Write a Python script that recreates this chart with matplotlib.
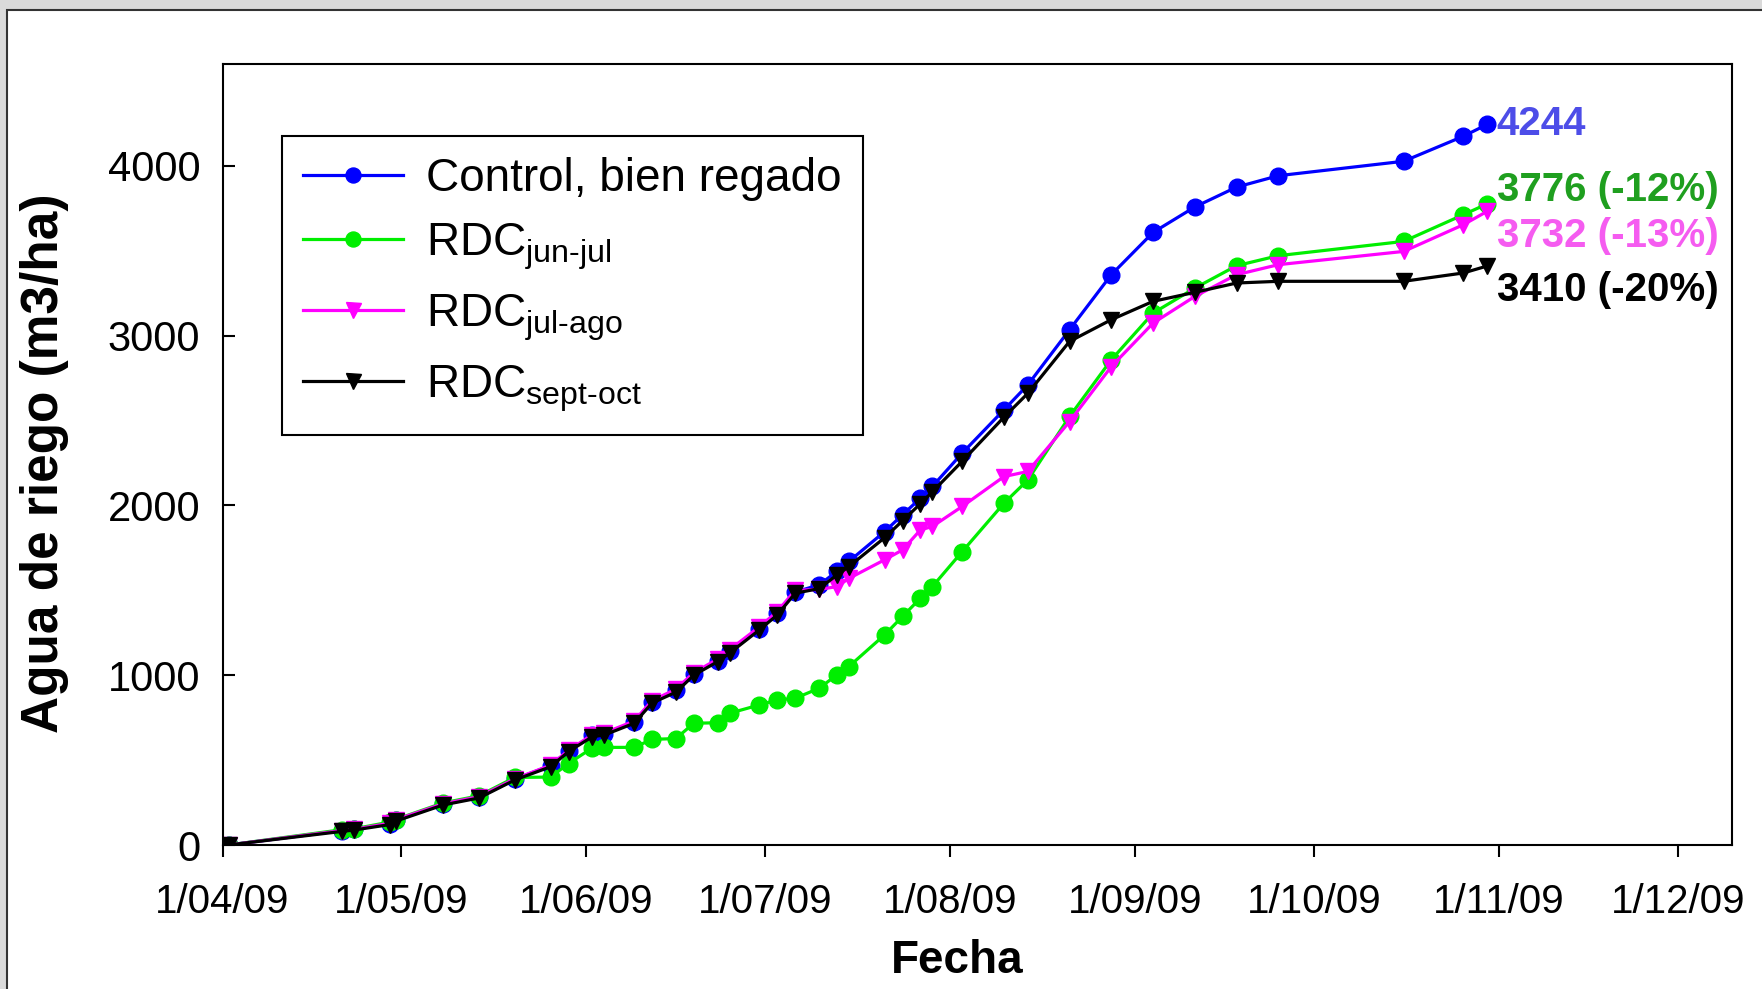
import matplotlib
matplotlib.use("Agg")
import matplotlib.pyplot as plt
import matplotlib.dates as mdates
from matplotlib.patches import Rectangle
from matplotlib.ticker import FuncFormatter
import pandas as pd

plt.rcParams["font.family"] = ["Liberation Sans", "DejaVu Sans"]
plt.rcParams["mathtext.fontset"] = "custom"
plt.rcParams["mathtext.rm"] = "Liberation Sans"
plt.rcParams["mathtext.it"] = "Liberation Sans:italic"
plt.rcParams["mathtext.bf"] = "Liberation Sans:bold"

# fechas de riego 2009
fechas = pd.to_datetime([
    "2009-04-02", "2009-04-21", "2009-04-23", "2009-04-29", "2009-04-30",
    "2009-05-08", "2009-05-14", "2009-05-20", "2009-05-26", "2009-05-29",
    "2009-06-02", "2009-06-04", "2009-06-09", "2009-06-12", "2009-06-16",
    "2009-06-19", "2009-06-23", "2009-06-25", "2009-06-30", "2009-07-03",
    "2009-07-06", "2009-07-10", "2009-07-13", "2009-07-15", "2009-07-21",
    "2009-07-24", "2009-07-27", "2009-07-29", "2009-08-03", "2009-08-10",
    "2009-08-14", "2009-08-21", "2009-08-28", "2009-09-04", "2009-09-11",
    "2009-09-18", "2009-09-25", "2009-10-16", "2009-10-26", "2009-10-30",
])

# agua acumulada (m3/ha)
control = [0, 85, 92, 125, 145, 240, 282, 388, 468, 555,
           645, 655, 725, 845, 910, 1010, 1085, 1140, 1275, 1365,
           1490, 1532, 1611, 1670, 1846, 1945, 2043, 2112, 2308, 2563,
           2710, 3035, 3359, 3608, 3758, 3875, 3942, 4027, 4174, 4244]
rdc_jun_jul = [0, 90, 95, 135, 150, 248, 290, 398, 400, 480,
               572, 575, 575, 622, 627, 717, 720, 776, 825, 855,
               864, 923, 1002, 1051, 1238, 1346, 1454, 1522, 1728, 2013,
               2150, 2524, 2858, 3133, 3280, 3412, 3471, 3555, 3712, 3776]
rdc_jul_ago = [0, 85, 92, 128, 148, 243, 285, 390, 470, 558,
               650, 660, 730, 850, 918, 1015, 1095, 1150, 1285, 1375,
               1500, 1505, 1522, 1570, 1680, 1738, 1856, 1876, 1994, 2170,
               2200, 2494, 2818, 3074, 3231, 3359, 3418, 3496, 3653, 3732]
rdc_sept_oct = [0, 80, 88, 120, 140, 236, 277, 383, 461, 550,
                638, 648, 717, 836, 900, 1000, 1080, 1130, 1267, 1355,
                1483, 1510, 1590, 1640, 1810, 1910, 2010, 2080, 2260, 2520,
                2660, 2966, 3094, 3202, 3255, 3310, 3320, 3320, 3369, 3410]

etiquetas = ["Control, bien regado",
             r"RDC$_{\text{jun-jul}}$",
             r"RDC$_{\text{jul-ago}}$",
             r"RDC$_{\text{sept-oct}}$"]
totales = ["4244", "3776 (-12%)", "3732 (-13%)", "3410 (-20%)"]

series = [control, rdc_jun_jul, rdc_jul_ago, rdc_sept_oct]
colores = ["#0000ff", "#00ee00", "#ff00ff", "#000000"]
marcas = ["o", "o", "v", "v"]
colores_txt = ["#4d4de8", "#1f9f1f", "#f55cf0", "#000000"]
desplaz = [(7, 0), (7, 10), (7, -18), (7, -17)]

fig = plt.figure(figsize=(17.62, 9.89), dpi=100, facecolor="#dadada")
fig.add_artist(Rectangle((7 / 1762, -0.05), 1.1, 1.05 - 10 / 989,
                         transform=fig.transFigure, facecolor="white",
                         edgecolor="#333333", linewidth=1.5, zorder=0))

ax = fig.add_axes([0.1263, 0.1456, 0.8565, 0.7897])

for vals, col, mk, lab in zip(series, colores, marcas, etiquetas):
    ax.plot(fechas, vals, color=col, marker=mk, markersize=12,
            linewidth=2.3, label=lab)

for vals, txt, col, off in zip(series, totales, colores_txt, desplaz):
    ax.annotate(txt, xy=(fechas[-1], vals[-1]), xytext=off,
                textcoords="offset points", ha="left", va="center",
                fontsize=29, fontweight="bold", color=col)

ax.set_xlim(pd.Timestamp("2009-04-01"), pd.Timestamp("2009-12-10"))
ax.set_ylim(0, 4600)
ax.set_yticks([0, 1000, 2000, 3000, 4000])
ax.xaxis.set_major_locator(mdates.MonthLocator())
ax.xaxis.set_major_formatter(FuncFormatter(
    lambda v, pos: "{}/{:02d}/{:02d}".format(mdates.num2date(v).day,
                                             mdates.num2date(v).month,
                                             mdates.num2date(v).year % 100)))

ax.tick_params(axis="x", direction="out", length=8.5, width=1.5, pad=19,
               labelsize=29)
ax.tick_params(axis="y", direction="in", length=8.5, width=1.5, pad=16,
               labelsize=30)
for s in ax.spines.values():
    s.set_linewidth(1.5)

ax.set_xlabel("Fecha", fontsize=33, fontweight="bold")
ax.set_ylabel("Agua de riego (m3/ha)", fontsize=37, fontweight="bold")
ax.xaxis.set_label_coords(0.4867, -0.149)
ax.xaxis.label.set_va("center")
ax.yaxis.set_label_coords(-0.118, 0.489)
ax.yaxis.label.set_va("center")

leg = ax.legend(loc="upper left", bbox_to_anchor=(0.0394, 0.9078),
                borderaxespad=0, fontsize=33, handlelength=2.2,
                handletextpad=0.5, labelspacing=0.45, borderpad=0.45,
                fancybox=False, framealpha=1, edgecolor="black",
                markerscale=0.9)
leg.get_frame().set_linewidth(1.5)

fig.savefig("out.png", dpi=100, facecolor=fig.get_facecolor())
